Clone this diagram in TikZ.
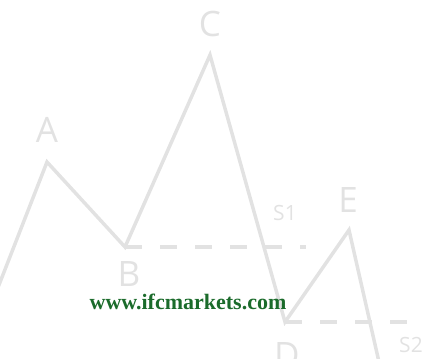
\documentclass[tikz,border=0pt]{standalone}
\usepackage{fontspec}
\setmainfont{Open Sans}
\newfontfamily\wmfont{Liberation Serif}
\definecolor{lg}{HTML}{E2E2E2}
\definecolor{wm}{HTML}{1B6B2B}
\begin{document}
\begin{tikzpicture}[x=1pt,y=-1pt,
  wave/.style={draw=lg,line width=3.5pt,line join=miter},
  lvl/.style={draw=lg,line width=3.5pt,dash pattern=on 17pt off 18pt},
  lbl/.style={text=lg,font=\fontsize{35}{35}\selectfont,inner sep=0pt},
  slbl/.style={text=lg,font=\fontsize{21}{21}\selectfont,inner sep=0pt}]
\useasboundingbox (0,0) rectangle (424,359);
\coordinate (O) at (-3,290);
\coordinate (A) at (47,162);
\coordinate (B) at (125,247);
\coordinate (C) at (210,55);
\coordinate (D) at (285,322);
\coordinate (E) at (349,230);
\coordinate (F) at (379,362);
\coordinate (S1e) at (306,247);
\coordinate (S2e) at (426,322);
\draw[lvl] (B) -- (S1e);
\draw[lvl] (D) -- (S2e);
\draw[wave] (O) -- (A) -- (B) -- (C) -- (D) -- (E) -- (F);
\node[lbl] (lA) at (47,130) {A};
\node[lbl] (lB) at (129,274) {B};
\node[lbl] (lC) at (210,24) {C};
\node[lbl] (lD) at (287,355) {D};
\node[lbl] (lE) at (348,200) {E};
\node[slbl] (lS1) at (285,213) {S1};
\node[slbl] (lS2) at (411,345) {S2};
\node[text=wm,font=\wmfont\bfseries\fontsize{22}{22}\selectfont,inner sep=0pt] (url) at (188,302) {www.ifcmarkets.com};
\end{tikzpicture}
\end{document}
